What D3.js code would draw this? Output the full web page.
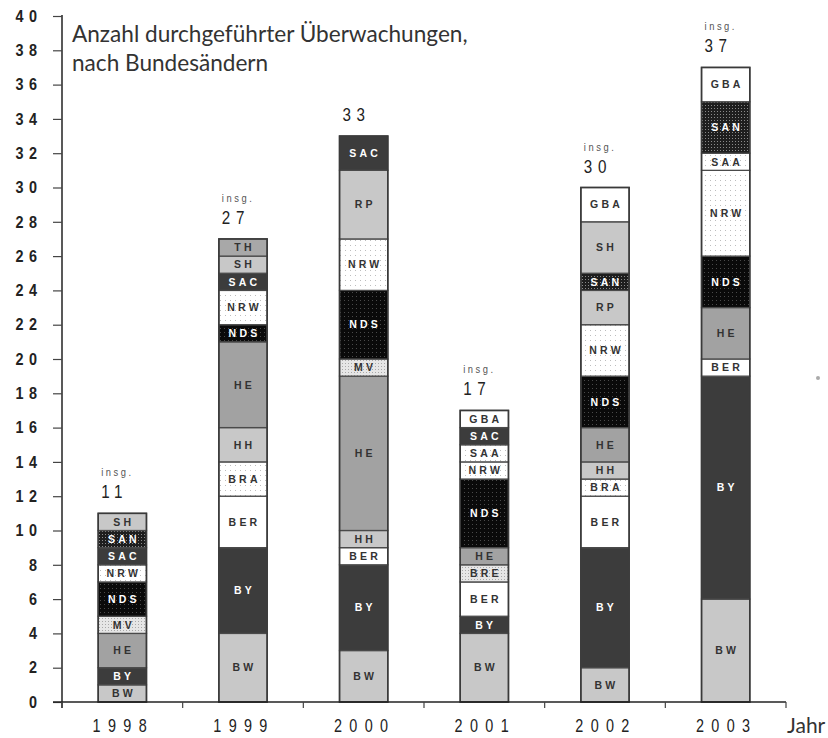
<!DOCTYPE html>
<html><head><meta charset="utf-8">
<script src="https://cdn.jsdelivr.net/npm/d3@7"></script>
<style>body{margin:0;background:#fff}svg{display:block}</style>
</head><body>
<script>
const years = ["1998","1999","2000","2001","2002","2003"];
const states = ["BW","BY","BER","BRA","BRE","HH","HE","MV","NDS","NRW","RP","SAA","SAC","SAN","SH","TH","GBA"];
const BW  = [1,4,3,4,2,6];
const BY  = [1,5,5,1,7,13];
const BER = [0,3,1,2,3,1];
const BRA = [0,2,0,0,1,0];
const BRE = [0,0,0,1,0,0];
const HH  = [0,2,1,0,1,0];
const HE  = [2,5,9,1,2,3];
const MV  = [1,0,1,0,0,0];
const NDS = [2,1,4,4,3,3];
const NRW = [1,2,3,1,3,5];
const RP  = [0,0,4,0,2,0];
const SAA = [0,0,0,1,0,1];
const SAC = [1,1,2,1,0,0];
const SAN = [1,0,0,0,1,3];
const SH  = [1,1,0,0,3,0];
const TH  = [0,1,0,0,0,0];
const GBA = [0,0,0,1,2,2];
const totals = [11,27,33,17,30,37];
const showInsg = [true,true,false,true,true,true];
const yTicks = d3.range(0,41,2);
const seriesValues = {BW,BY,BER,BRA,BRE,HH,HE,MV,NDS,NRW,RP,SAA,SAC,SAN,SH,TH,GBA};

const fills = {BW:"#c8c8c8",BY:"#3c3c3c",BER:"#ffffff",BRA:"url(#pSparse)",BRE:"url(#pLight)",HH:"#c8c8c8",HE:"#a2a2a2",MV:"url(#pLight)",NDS:"url(#pNds)",NRW:"url(#pSparse)",RP:"#c8c8c8",SAA:"url(#pSparse)",SAC:"#3c3c3c",SAN:"url(#pSan)",SH:"#c8c8c8",TH:"#a8a8a8",GBA:"#ffffff"};
const textWhite = new Set(["BY","NDS","SAC","SAN"]);
const ARIAL = "Liberation Sans, Arial, sans-serif";

const W=828,H=738;
const svg = d3.select("body").append("svg").attr("width",W).attr("height",H);
const defs = svg.append("defs");
function pat(id,bg,dot,size,r){
  const p=defs.append("pattern").attr("id",id).attr("width",size).attr("height",size).attr("patternUnits","userSpaceOnUse");
  p.append("rect").attr("width",size).attr("height",size).attr("fill",bg);
  p.append("rect").attr("x",0).attr("y",0).attr("width",r).attr("height",r).attr("fill",dot);
}
pat("pSparse","#ffffff","#bdbdbd",5,1);
pat("pLight","#e6e6e6","#a8a8a8",3,1);
pat("pNds","#0a0a0a","#4a4a4a",4,1);
const ps=defs.append("pattern").attr("id","pSan").attr("width",3).attr("height",3).attr("patternUnits","userSpaceOnUse");
ps.append("rect").attr("width",3).attr("height",3).attr("fill","#1e1e1e");
ps.append("rect").attr("width",1).attr("height",1).attr("fill","#8a8a8a");

function stext(parent,x,y,str,o){
  const t=parent.append("text").attr("transform",`translate(${x},${y}) scale(${o.sx||1},1)`)
    .attr("font-family",o.family||ARIAL).attr("font-size",o.size).attr("fill",o.fill||"#222")
    .attr("text-anchor",o.anchor||"start").attr("letter-spacing",(o.ls||0)+"px").text(str);
  if(o.weight) t.attr("font-weight",o.weight);
  if(o.dy) t.attr("dy",o.dy);
  return t;
}

const x = d3.scaleBand().domain(years).range([62,786]).paddingInner(0.6).paddingOuter(0.3);
const y = d3.scaleLinear().domain([0,40]).range([702,16]);

const table = years.map((yr,i)=>{const o={year:yr};states.forEach(s=>o[s]=seriesValues[s][i]);return o;});
const stack = d3.stack().keys(states)(table);

const g = svg.append("g");
stack.forEach(layer=>{
  const key=layer.key;
  layer.forEach((d,i)=>{
    if(d[1]-d[0]<=0) return;
    const yr=years[i];
    g.append("rect").attr("x",x(yr)).attr("y",y(d[1])).attr("width",x.bandwidth()).attr("height",y(d[0])-y(d[1]))
      .attr("fill",fills[key]).attr("stroke","#4a4a4a").attr("stroke-width",1.3);
    stext(g,x(yr)+x.bandwidth()/2+1.5,(y(d[0])+y(d[1]))/2,key,
      {size:10.5,weight:"bold",ls:3.2,anchor:"middle",dy:"0.36em",fill:textWhite.has(key)?"#ffffff":"#333"});
  });
});
years.forEach((yr,i)=>{
  g.append("rect").attr("x",x(yr)).attr("y",y(totals[i])).attr("width",x.bandwidth()).attr("height",y(0)-y(totals[i]))
   .attr("fill","none").attr("stroke","#3a3a3a").attr("stroke-width",1.6);
});

years.forEach((yr,i)=>{
  const cx=x(yr)+3;
  if(showInsg[i]) stext(svg,cx,y(totals[i])-37,"insg.",{size:11,sx:0.85,ls:3,fill:"#555"});
  stext(svg,cx,y(totals[i])-15,String(totals[i]),{size:19,sx:0.8,ls:7,fill:"#222"});
});

const yAxis = d3.axisLeft(y).tickValues(yTicks).tickSize(9).tickFormat("");
const ya = svg.append("g").attr("transform","translate(62,0)").call(yAxis);
ya.select(".domain").attr("stroke","#222").attr("stroke-width",1.5).attr("d","M0,"+(y(40)-1)+"V"+(y(0)+6));
ya.selectAll(".tick line").attr("stroke","#444").attr("stroke-width",1.2);
yTicks.forEach(v=>stext(svg,37+5.4,y(v),String(v),{size:16,sx:0.9,weight:"bold",ls:6,anchor:"end",dy:"0.36em",fill:"#222"}));

const xa = svg.append("g").attr("transform","translate(0,"+y(0)+")");
xa.append("line").attr("x1",53).attr("x2",786).attr("stroke","#222").attr("stroke-width",1.5);
d3.range(years.length+1).forEach(k=>{
  const b=62+k*x.step();
  xa.append("line").attr("x1",b).attr("x2",b).attr("y1",0).attr("y2",6).attr("stroke","#444").attr("stroke-width",1.2);
});
years.forEach(yr=>stext(xa,x(yr)+x.bandwidth()/2+1,30,yr,{size:18,sx:0.8,ls:9.2,anchor:"middle",fill:"#222"}));
svg.append("text").attr("x",787).attr("y",733).attr("font-family","Lato, Open Sans, sans-serif").attr("font-size",21)
   .attr("fill","#333").text("Jahr");

const t = svg.append("text").attr("font-family","Lato, Open Sans, sans-serif").attr("font-size",22.6).attr("fill","#333");
t.append("tspan").attr("x",72).attr("y",42).text("Anzahl durchgeführter Überwachungen,");
t.append("tspan").attr("x",72).attr("y",71).text("nach Bundesändern");

svg.append("circle").attr("cx",818).attr("cy",378).attr("r",2).attr("fill","#aaa");
</script>
</body></html>
